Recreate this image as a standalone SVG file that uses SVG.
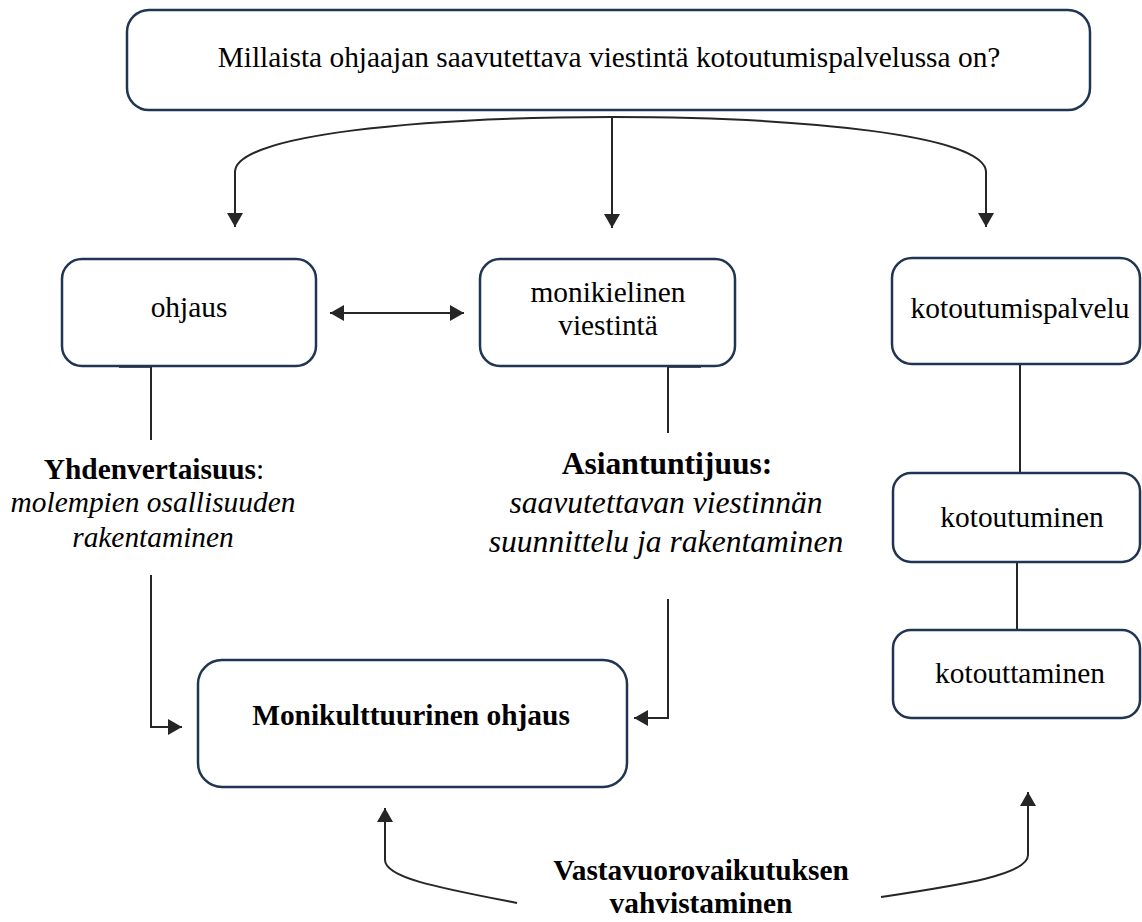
<svg xmlns="http://www.w3.org/2000/svg" width="1142" height="922" viewBox="0 0 1142 922">
<style>
.box{fill:#ffffff;stroke:#1f3551;stroke-width:2.5}
.t{font-family:"Liberation Serif","Times New Roman",serif;font-size:29.4px;fill:#000;text-anchor:middle}
.b{font-weight:bold}
.i{font-style:italic}
.big{font-size:31.6px}
.c{fill:none;stroke:#262626;stroke-width:2}
.seg{stroke:#1a1a1a;stroke-width:3.5}
</style>
<defs>
<marker id="ah" markerUnits="userSpaceOnUse" markerWidth="16" markerHeight="16" refX="14" refY="8" orient="auto-start-reverse">
<path d="M0,0 L14,8 L0,16 z" fill="#262626"/>
</marker>
</defs>
<rect width="1142" height="922" fill="#ffffff"/>
<g id="connectors">
<path class="c" d="M612,117 C420,117 235,135 235,172 V227" marker-end="url(#ah)"/>
<path class="c" d="M612,117 V228" marker-end="url(#ah)"/>
<path class="c" d="M612,117 C800,117 986,135 986,172 V227" marker-end="url(#ah)"/>
<path class="c" d="M330,313 H464" marker-start="url(#ah)" marker-end="url(#ah)"/>
<line class="seg" x1="119" y1="366" x2="152" y2="366"/>
<line class="seg" x1="668" y1="366" x2="701" y2="366"/>
<path class="c" d="M151,366 V440"/>
<path class="c" d="M668,366 V433"/>
<path class="c" d="M151,575 V727 H182" marker-end="url(#ah)"/>
<path class="c" d="M668,599 V718 H634" marker-end="url(#ah)"/>
<path class="c" d="M1020,364 V473"/>
<path class="c" d="M1017,562 V630"/>
<path class="c" d="M517,903 C440,888 385,878 385,860 V808" marker-end="url(#ah)"/>
<path class="c" d="M881,897 C960,885 1028,875 1028,855 V792" marker-end="url(#ah)"/>
</g>
<g id="node-question">
<rect class="box" x="127" y="10" width="963" height="100" rx="22"/>
<text class="t" x="609" y="67">Millaista ohjaajan saavutettava viestintä kotoutumispalvelussa on?</text>
</g>
<g id="node-ohjaus">
<rect class="box" x="62" y="259" width="254" height="107" rx="20"/>
<text class="t" x="189" y="317">ohjaus</text>
</g>
<g id="node-monikielinen">
<rect class="box" x="480" y="259" width="255" height="107" rx="20"/>
<text class="t" x="608" y="302">monikielinen</text>
<text class="t" x="608" y="335">viestintä</text>
</g>
<g id="node-kotoutumispalvelu">
<rect class="box" x="892" y="258" width="248" height="106" rx="20"/>
<text class="t" x="1020" y="318">kotoutumispalvelu</text>
</g>
<g id="node-kotoutuminen">
<rect class="box" x="893" y="473" width="247" height="89" rx="18"/>
<text class="t" x="1022" y="527">kotoutuminen</text>
</g>
<g id="node-kotouttaminen">
<rect class="box" x="893" y="630" width="247" height="88" rx="18"/>
<text class="t" x="1020" y="683">kotouttaminen</text>
</g>
<g id="node-yhdenvertaisuus">
<text class="t" x="154" y="479"><tspan class="b">Yhdenvertaisuus</tspan>:</text>
<text class="t i" x="153" y="512">molempien osallisuuden</text>
<text class="t i" x="153" y="547">rakentaminen</text>
</g>
<g id="node-asiantuntijuus">
<text class="t b big" x="667" y="474">Asiantuntijuus:</text>
<text class="t i big" x="666" y="513">saavutettavan viestinnän</text>
<text class="t i big" x="666" y="552">suunnittelu ja rakentaminen</text>
</g>
<g id="node-monikulttuurinen">
<rect class="box" x="198" y="660" width="429" height="127" rx="24"/>
<text class="t b" x="411" y="725">Monikulttuurinen ohjaus</text>
</g>
<g id="node-vastavuorovaikutus">
<text class="t b" x="701" y="880">Vastavuorovaikutuksen</text>
<text class="t b" x="701" y="913">vahvistaminen</text>
</g>
</svg>
